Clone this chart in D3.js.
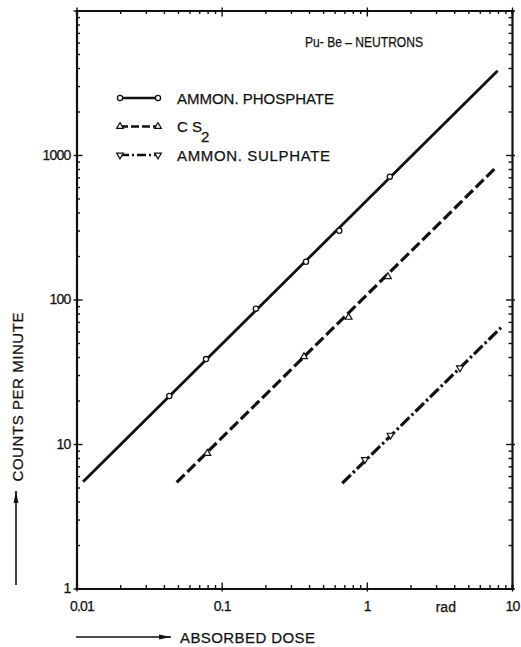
<!DOCTYPE html>
<html>
<head>
<meta charset="utf-8">
<script src="https://cdn.jsdelivr.net/npm/d3@7"></script>
<style>
  html, body { margin: 0; padding: 0; background: #fff; }
  svg { display: block; }
  text { font-family: "Liberation Sans", Arial, sans-serif; fill: #111; stroke: #111; stroke-width: 0.25; }
</style>
</head>
<body>
<svg id="chart" width="521" height="647"></svg>
<script>
// Absorbed dose (rad) vs. count rate for three detector fillings, Pu-Be neutrons.
const xTickValues = [0.01, 0.1, 1, 10];
const xTickLabels = ["0.01", "0.1", "1", "10"];
const yTickValues = [1, 10, 100, 1000];
const yTickLabels = ["1", "10", "100", "1000"];
const unitLabel = "rad";

// Measured points
const phosphateDose   = [0.0436, 0.078, 0.172, 0.381, 0.646, 1.44];
const phosphateCounts = [21.5, 38.7, 86.4, 182.7, 299, 708];
const cs2Dose         = [0.0796, 0.369, 0.749, 1.397];
const cs2Counts       = [8.62, 40.2, 75.3, 143.8];
const sulphateDose    = [0.970, 1.455, 4.38];
const sulphateCounts  = [7.80, 11.5, 33.7];

// Fitted straight lines (end points)
const phosphateFitDose   = [0.0111, 7.96];
const phosphateFitCounts = [5.48, 3832];
const cs2FitDose         = [0.049, 7.66];
const cs2FitCounts       = [5.43, 809];
const sulphateFitDose    = [0.677, 8.39];
const sulphateFitCounts  = [5.35, 63.8];

const seriesNames = ["AMMON. PHOSPHATE", "C S", "AMMON. SULPHATE"];

const svg = d3.select("#chart");
const L = 76.5, R = 512, T = 10.5, B = 588.5;

const x = d3.scaleLog().domain([0.01, 10]).range([L, R]);
const y = d3.scaleLog().domain([1, 10000]).range([B, T]);

// minor tick values (2..9 in every decade)
function minors(lo, hi) {
  const out = [];
  for (let e = Math.log10(lo); e < Math.log10(hi); e++) {
    for (let m = 2; m <= 9; m++) out.push(m * Math.pow(10, e));
  }
  return out;
}
const xMinor = minors(0.01, 10);
const yMinor = minors(1, 10000);
const yMajorAll = [1, 10, 100, 1000, 10000];
const xMajorAll = [0.01, 0.1, 1, 10];

function styleAxis(g, showDomain) {
  g.selectAll(".tick line").attr("stroke", "#111").attr("stroke-width", 1.4);
  g.select(".domain").attr("stroke", showDomain ? "#111" : "none").attr("stroke-width", 2.2);
}

// minor ticks pointing inward on all four sides
const axes = [
  [d3.axisBottom(x).tickValues(xMinor), `translate(0,${B})`],
  [d3.axisTop(x).tickValues(xMinor), `translate(0,${T})`],
  [d3.axisLeft(y).tickValues(yMinor), `translate(${L},0)`],
  [d3.axisRight(y).tickValues(yMinor), `translate(${R},0)`]
];
axes.forEach(([ax, tr]) => {
  const g = svg.append("g").attr("transform", tr)
    .call(ax.tickSize(-3.5).tickFormat(""));
  styleAxis(g, true);
});

// major ticks crossing the frame
const majors = [
  [d3.axisBottom(x).tickValues(xMajorAll), `translate(0,${B})`],
  [d3.axisTop(x).tickValues(xMajorAll), `translate(0,${T})`],
  [d3.axisLeft(y).tickValues(yMajorAll), `translate(${L},0)`],
  [d3.axisRight(y).tickValues(yMajorAll), `translate(${R},0)`]
];
majors.forEach(([ax, tr]) => {
  const g1 = svg.append("g").attr("transform", tr).call(ax.tickSize(-6).tickFormat(""));
  styleAxis(g1, false);
  const g2 = svg.append("g").attr("transform", tr).call(ax.tickSize(3).tickFormat(""));
  styleAxis(g2, false);
});

// tick labels
const xLab = svg.append("g").attr("transform", `translate(0,${B})`)
  .call(d3.axisBottom(x).tickValues(xTickValues).tickSize(0).tickPadding(13)
    .tickFormat((d, i) => xTickLabels[i]));
xLab.select(".domain").remove();
xLab.selectAll("text")
  .style("font-family", '"Liberation Sans", Arial, sans-serif')
  .attr("font-size", 14).attr("fill", "#111").attr("letter-spacing", -0.8)
  .attr("dx", (d, i) => (i === 0 ? 5 : 0));

svg.append("text").attr("x", x(3.5)).attr("y", B + 23)
  .attr("text-anchor", "middle").attr("font-size", 14).text(unitLabel);

const yLab = svg.append("g").attr("transform", `translate(${L},0)`)
  .call(d3.axisLeft(y).tickValues(yTickValues).tickSize(0).tickPadding(6)
    .tickFormat((d, i) => yTickLabels[i]));
yLab.select(".domain").remove();
yLab.selectAll("text")
  .style("font-family", '"Liberation Sans", Arial, sans-serif')
  .attr("font-size", 14).attr("fill", "#111").attr("letter-spacing", -0.8);

// axis titles with arrows
const defs = svg.append("defs");
defs.append("marker").attr("id", "arrow").attr("viewBox", "0 0 12 6")
  .attr("refX", 12).attr("refY", 3).attr("markerWidth", 12).attr("markerHeight", 6)
  .attr("markerUnits", "userSpaceOnUse").attr("orient", "auto")
  .append("path").attr("d", "M0,0.6 L12,3 L0,5.4 Z").attr("fill", "#111");

svg.append("line").attr("x1", 16).attr("y1", 585).attr("x2", 16).attr("y2", 491)
  .attr("stroke", "#111").attr("stroke-width", 1.6).attr("marker-end", "url(#arrow)");
svg.append("text")
  .attr("transform", "translate(23,397) rotate(-90)")
  .attr("text-anchor", "middle").attr("font-size", 15)
  .attr("textLength", 169).attr("lengthAdjust", "spacing")
  .text("COUNTS PER MINUTE");

svg.append("line").attr("x1", 76).attr("y1", 637).attr("x2", 171).attr("y2", 637)
  .attr("stroke", "#111").attr("stroke-width", 1.6).attr("marker-end", "url(#arrow)");
svg.append("text").attr("x", 180).attr("y", 642.5).attr("font-size", 15)
  .attr("textLength", 135).attr("lengthAdjust", "spacing")
  .text("ABSORBED DOSE");

// title
svg.append("text").attr("x", 305).attr("y", 46.5).attr("font-size", 15)
  .attr("textLength", 118).attr("lengthAdjust", "spacingAndGlyphs")
  .text("Pu- Be \u2013 NEUTRONS");

// lines
const line = d3.line().x(d => x(d[0])).y(d => y(d[1]));
const series = [
  { dose: phosphateDose, counts: phosphateCounts, fd: phosphateFitDose, fc: phosphateFitCounts, dash: null, width: 2.8, marker: "circle" },
  { dose: cs2Dose, counts: cs2Counts, fd: cs2FitDose, fc: cs2FitCounts, dash: "11,4", width: 3.2, marker: "up" },
  { dose: sulphateDose, counts: sulphateCounts, fd: sulphateFitDose, fc: sulphateFitCounts, dash: "12,3,2.5,3", width: 3.2, marker: "down" }
];

const triUp = d3.symbol().type(d3.symbolTriangle).size(20);
function drawMarker(g, kind, cx, cy) {
  if (kind === "circle") {
    g.append("circle").attr("cx", cx).attr("cy", cy).attr("r", 2.6)
      .attr("fill", "#fff").attr("stroke", "#111").attr("stroke-width", 1.3);
  } else {
    g.append("path").attr("d", triUp())
      .attr("transform", `translate(${cx},${cy}) rotate(${kind === "down" ? 180 : 0})`)
      .attr("fill", "#fff").attr("stroke", "#111").attr("stroke-width", 1.2);
  }
}

series.forEach(s => {
  const pts = s.fd.map((d, i) => [d, s.fc[i]]);
  svg.append("path").attr("d", line(pts)).attr("fill", "none")
    .attr("stroke", "#111").attr("stroke-width", s.width)
    .attr("stroke-dasharray", s.dash);
  const g = svg.append("g");
  s.dose.forEach((d, i) => drawMarker(g, s.marker, x(d), y(s.counts[i])));
});

// legend
const legY = [98, 126.5, 155];
const legX1 = 120, legX2 = 158, legText = 177;
const legLengths = [157, null, 153];
series.forEach((s, i) => {
  svg.append("line").attr("x1", legX1).attr("x2", legX2)
    .attr("y1", legY[i]).attr("y2", legY[i])
    .attr("stroke", "#111").attr("stroke-width", 2.4)
    .attr("stroke-dasharray", s.dash ? (i === 1 ? "8,3" : "9,3,2,3") : null);
  const g = svg.append("g");
  drawMarker(g, s.marker, legX1, legY[i]);
  drawMarker(g, s.marker, legX2, legY[i]);
  const t = svg.append("text").attr("x", legText).attr("y", legY[i] + 5.5)
    .attr("font-size", 15).text(seriesNames[i]);
  if (legLengths[i]) t.attr("textLength", legLengths[i]).attr("lengthAdjust", "spacing");
});
svg.append("text").attr("x", 201).attr("y", legY[1] + 15).attr("font-size", 15).text("2");
</script>
</body>
</html>
